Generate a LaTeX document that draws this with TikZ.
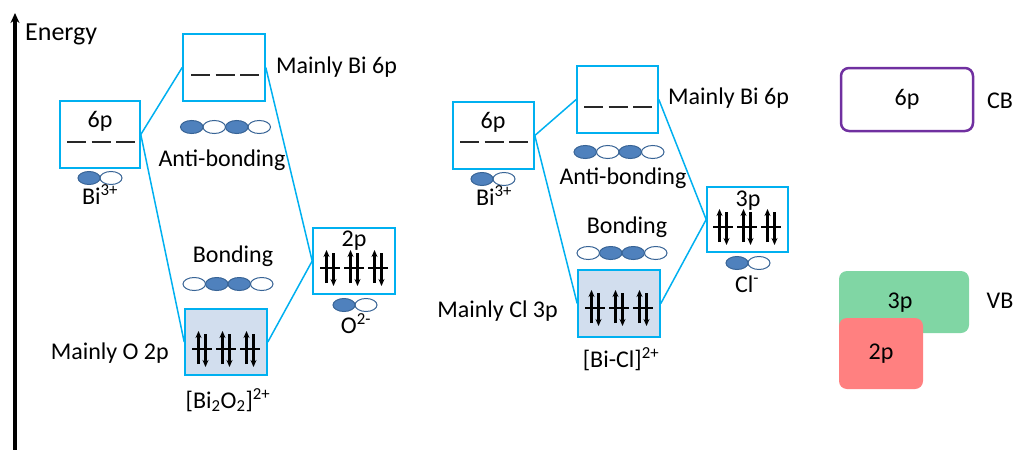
\documentclass[tikz,border=0pt]{standalone}
\usepackage{fontspec}
\setmainfont{Carlito}
\usetikzlibrary{arrows.meta}
\definecolor{cyanline}{RGB}{0,176,240}
\definecolor{bondfill}{RGB}{210,222,238}
\definecolor{orbblue}{RGB}{79,129,189}
\definecolor{orbedge}{RGB}{56,100,150}
\definecolor{cbpurple}{RGB}{112,48,160}
\definecolor{vbgreen}{RGB}{128,214,164}
\definecolor{vbred}{RGB}{255,128,128}
\definecolor{dashgray}{RGB}{40,40,40}
\tikzset{
  every node/.style={font=\fontsize{24}{28}\selectfont, inner sep=0pt},
  mobox/.style={draw=cyanline, line width=1.6pt, minimum width=#1, minimum height=67pt},
  link/.style={draw=cyanline, line width=1.5pt},
  levelline/.style={draw=dashgray, line width=2.2pt},
  spin/.style={line width=2.3pt, -{Stealth[length=7pt,width=6pt]}},
  crossbar/.style={line width=2pt},
  orbf/.style={draw=orbedge, fill=orbblue, line width=1pt},
  orbw/.style={draw=orbedge, fill=white, line width=1pt},
  levels/.pic={\foreach \i in {-1,0,1} \draw[levelline] (\i*24.5-9.5,0) -- (\i*24.5+9.5,0);},
  pairs/.pic={\foreach \i in {-24,0,24}{
      \draw[spin] (\i-3.5,15) -- (\i-3.5,-18);
      \draw[spin] (\i+3.5,-15) -- (\i+3.5,18);
      \draw[crossbar] (\i-10,0) -- (\i+10,0);}},
  porb/.pic={\draw[orbw] (11,0) ellipse [x radius=11pt, y radius=6.5pt];
             \draw[orbf] (-11,0) ellipse [x radius=11pt, y radius=6.5pt];},
  aborb/.pic={\draw[orbw] (-11.25,0) ellipse [x radius=11.25pt, y radius=6.5pt];
              \draw[orbw] (33.75,0) ellipse [x radius=11.25pt, y radius=6.5pt];
              \draw[orbf] (-33.75,0) ellipse [x radius=11.25pt, y radius=6.5pt];
              \draw[orbf] (11.25,0) ellipse [x radius=11.25pt, y radius=6.5pt];},
  borb/.pic={\draw[orbw] (-33.75,0) ellipse [x radius=11.25pt, y radius=6.5pt];
             \draw[orbw] (33.75,0) ellipse [x radius=11.25pt, y radius=6.5pt];
             \draw[orbf] (-11.25,0) ellipse [x radius=11.25pt, y radius=6.5pt];
             \draw[orbf] (11.25,0) ellipse [x radius=11.25pt, y radius=6.5pt];},
}
\begin{document}
\begin{tikzpicture}[x=1pt, y=-1pt]
\useasboundingbox (0,0) rectangle (1018,450);
% energy axis
\coordinate (axb) at (15,450);
\coordinate (axt) at (15,13);
\draw[line width=3.2pt, -{Stealth[length=10pt,width=9pt]}] (axb) -- (axt);
\node[anchor=west, font=\fontsize{26}{30}\selectfont] (energy) at (25,34) {Energy};

% ---------- left diagram ----------
\node[mobox=80pt] (bi1) at (100,134.5) {};
\node[mobox=82pt] (ab1) at (224,67.5) {};
\node[mobox=82pt, minimum height=66pt] (o2p) at (354,261) {};
\node[mobox=82pt, minimum height=66pt, fill=bondfill] (bd1) at (226,342) {};
\draw[link] (bi1.east) -- (ab1.west);
\draw[link] (bi1.east) -- (bd1.west);
\draw[link] (ab1.east) -- (o2p.west);
\draw[link] (o2p.west) -- (bd1.east);
\node (bi1lab) at (100,121) {6p};
\pic at (101,142) {levels};
\pic at (225,75) {levels};
\node (o2plab) at (354,241) {2p};
\pic at (354,268) {pairs};
\pic at (226,349) {pairs};
\pic at (100,178) {porb};
\pic at (225.5,127) {aborb};
\pic at (228,284) {borb};
\pic at (355,305) {porb};
\node (bi1ion) at (100,195) {Bi\textsuperscript{3+}};
\node (ab1txt) at (222,160) {Anti-bonding};
\node[anchor=west] (ab1main) at (276,67) {Mainly Bi 6p};
\node (bd1txt) at (233,256) {Bonding};
\node (o2ion) at (356,324) {O\textsuperscript{2-}};
\node[anchor=east] (bd1main) at (169,353) {Mainly O 2p};
\node (bd1ion) at (228,400) {[Bi\textsubscript{2}O\textsubscript{2}]\textsuperscript{2+}};

% ---------- right diagram ----------
\node[mobox=81pt] (bi2) at (493.5,135.5) {};
\node[mobox=81pt] (ab2) at (617.5,99.5) {};
\node[mobox=81pt, minimum height=65pt] (cl3p) at (747.5,219.5) {};
\node[mobox=82pt, fill=bondfill] (bd2) at (619,303.5) {};
\draw[link] (bi2.east) -- (ab2.west);
\draw[link] (bi2.east) -- (bd2.west);
\draw[link] (ab2.east) -- (cl3p.west);
\draw[link] (cl3p.west) -- (bd2.east);
\node (bi2lab) at (493,122) {6p};
\pic at (494,142) {levels};
\pic at (618,107) {levels};
\node (cl3plab) at (748,201) {3p};
\pic at (747,227) {pairs};
\pic at (619,308) {pairs};
\pic at (493,179) {porb};
\pic at (619,152) {aborb};
\pic at (622,253) {borb};
\pic at (748,263) {porb};
\node (bi2ion) at (494,196) {Bi\textsuperscript{3+}};
\node (ab2txt) at (623,178) {Anti-bonding};
\node[anchor=west] (ab2main) at (668,98) {Mainly Bi 6p};
\node (bd2txt) at (627,227) {Bonding};
\node (clion) at (747,284) {Cl\textsuperscript{-}};
\node[anchor=east] (bd2main) at (558,311) {Mainly Cl 3p};
\node (bd2ion) at (621,359) {[Bi-Cl]\textsuperscript{2+}};

% ---------- band panel ----------
\node[draw=cbpurple, line width=2.5pt, rounded corners=8pt, minimum width=132pt, minimum height=63pt] (cb) at (907,99.5) {6p};
\node (cblab) at (1000,101) {CB};
\node[fill=vbgreen, rounded corners=8pt, minimum width=130pt, minimum height=62pt] (vb3) at (904,302) {};
\node (vb3lab) at (900,303) {3p};
\node[fill=vbred, rounded corners=8pt, minimum width=84pt, minimum height=71pt] (vb2) at (881,353.5) {2p};
\node (vblab) at (1000,301) {VB};
\end{tikzpicture}
\end{document}
